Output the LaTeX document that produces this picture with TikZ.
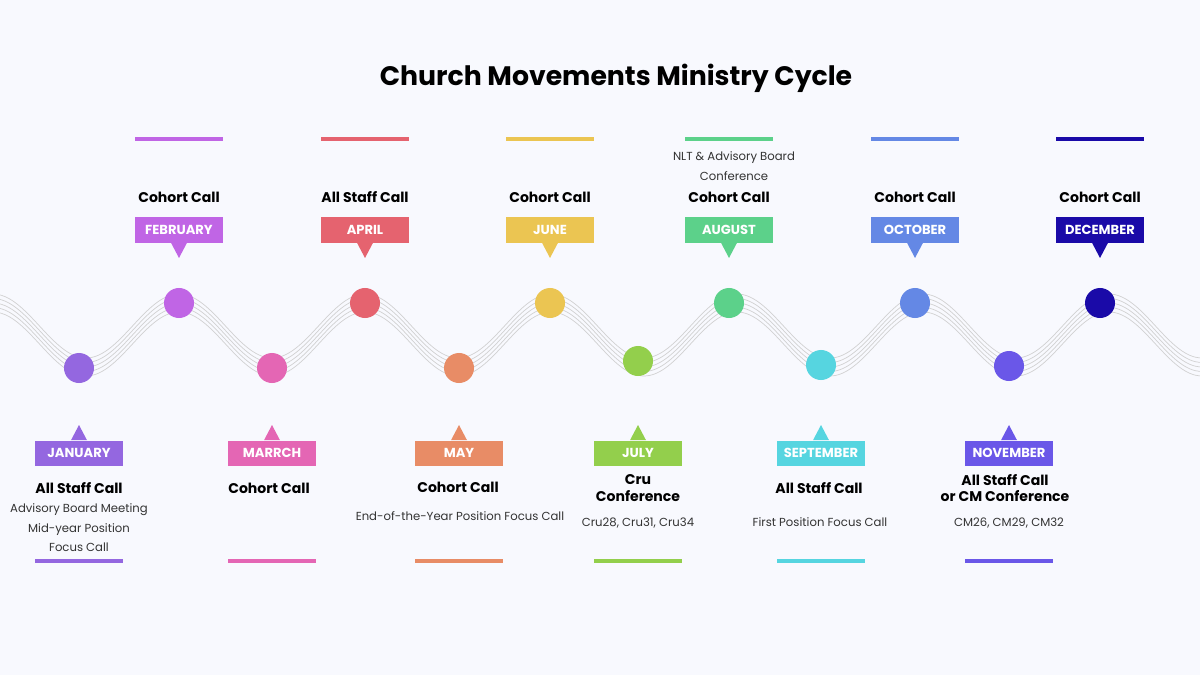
\documentclass[tikz,border=0pt]{standalone}
\usepackage{fontspec}
\setmainfont{Poppins}
\usetikzlibrary{positioning}
\definecolor{bg}{HTML}{F8F9FE}
\definecolor{cJan}{HTML}{9467E0}
\definecolor{cFeb}{HTML}{C065E5}
\definecolor{cMar}{HTML}{E466B4}
\definecolor{cApr}{HTML}{E5636F}
\definecolor{cMay}{HTML}{E88C66}
\definecolor{cJun}{HTML}{EBC552}
\definecolor{cJul}{HTML}{93CF4C}
\definecolor{cAug}{HTML}{5CD18A}
\definecolor{cSep}{HTML}{56D5E0}
\definecolor{cOct}{HTML}{6488E5}
\definecolor{cNov}{HTML}{6A57E8}
\definecolor{cDec}{HTML}{1A0AA8}
\begin{document}
\begin{tikzpicture}
    [
    x=0.025cm,y=-0.025cm,
    monthbox/.style={rectangle,inner sep=0pt,minimum width=2.2cm,minimum height=0.625cm,
      text=white,font=\bfseries\fontsize{9.3}{10}\selectfont},
    dot/.style={circle,inner sep=0pt,minimum size=0.75cm},
    bar/.style={rectangle,inner sep=0pt,minimum width=2.2cm,minimum height=0.12cm},
    title/.style={font=\bfseries\fontsize{10}{12}\selectfont,align=center,text=black},
    note/.style={font=\fontsize{8.3}{14}\selectfont,align=center,text=black!80},
    ]
    \fill [bg] (0,0) rectangle (1200,675);
    \useasboundingbox (0,0) rectangle (1200,675);
    \node (head) at (616,78) [font=\bfseries\fontsize{19}{22}\selectfont] {Church Movements Ministry Cycle};

    % wave
    \foreach \d in {-9,-4.5,0,4.5,9}
      \draw [black!18,line width=0.5pt] plot [domain=0:1200,samples=240,smooth]
        (\x,{335+\d-32*cos(1.93548*(\x-179))});

    % months above the wave
    \foreach \n/\x/\c/\m/\t in {feb/179/cFeb/FEBRUARY/Cohort Call,apr/365/cApr/APRIL/All Staff Call,
        jun/550/cJun/JUNE/Cohort Call,aug/729/cAug/AUGUST/Cohort Call,
        oct/915/cOct/OCTOBER/Cohort Call,dec/1100/cDec/DECEMBER/Cohort Call} {
      \node (\n-bar) at (\x,139) [bar,fill=\c] {};
      \node (\n) at (\x,230) [monthbox,fill=\c] {\m};
      \fill [\c] ([xshift=-0.2cm]\n.south) -- ([yshift=-0.38cm]\n.south) -- ([xshift=0.2cm]\n.south) -- cycle;
      \node (\n-title) at (\x,197) [title] {\t};
      \node (\n-dot) at (\x,303) [dot,fill=\c] {};
    }
    \node (aug-note) at (734,166) [note] {NLT \& Advisory Board\\Conference};

    % months below the wave
    \foreach \n/\x/\y/\c/\m in {jan/79/368/cJan/JANUARY,mar/272/368/cMar/MARRCH,may/459/368/cMay/MAY,
        jul/638/361/cJul/JULY,sep/821/365/cSep/SEPTEMBER,nov/1009/366/cNov/NOVEMBER} {
      \node (\n-dot) at (\x,\y) [dot,fill=\c] {};
      \node (\n) at (\x,453) [monthbox,fill=\c] {\m};
      \fill [\c] ([xshift=-0.2cm]\n.north) -- ([yshift=0.38cm]\n.north) -- ([xshift=0.2cm]\n.north) -- cycle;
      \node (\n-bar) at (\x,561) [bar,fill=\c] {};
    }
    \node (jan-title) at (79,488) [title] {All Staff Call};
    \node (jan-note) [below=0mm of jan-title,note] {Advisory Board Meeting\\Mid-year Position\\Focus Call};
    \node (mar-title) at (269,488) [title] {Cohort Call};
    \node (may-title) at (458,487) [title] {Cohort Call};
    \node (may-note) at (460,516) [note] {End-of-the-Year Position Focus Call};
    \node (jul-title) at (638,488) [title] {Cru\\Conference};
    \node (jul-note) at (638,523) [note] {Cru28, Cru31, Cru34};
    \node (sep-title) at (819,488) [title] {All Staff Call};
    \node (sep-note) at (820,522) [note] {First Position Focus Call};
    \node (nov-title) at (1005,488) [title] {All Staff Call\\or CM Conference};
    \node (nov-note) at (1009,523) [note] {CM26, CM29, CM32};
\end{tikzpicture}
\end{document}
